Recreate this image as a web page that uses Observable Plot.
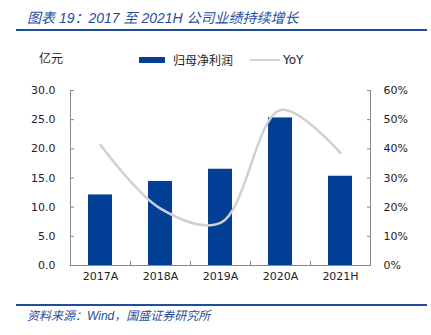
<!DOCTYPE html>
<html><head><meta charset="utf-8">
<script src="https://cdn.jsdelivr.net/npm/d3@7"></script>
<script src="https://cdn.jsdelivr.net/npm/@observablehq/plot@0.6"></script>
<style>
body{margin:0;background:#fff;}
#wrap{position:relative;width:431px;height:335px;overflow:hidden;font-family:"Noto Sans CJK SC",sans-serif;}
#title{position:absolute;left:27px;top:7px;font-size:14px;font-style:italic;color:#1f4e9e;white-space:nowrap;font-family:"Liberation Sans","Noto Sans CJK SC",sans-serif;}
.hr{position:absolute;left:16px;width:411px;height:2px;background:#1f4e9e;}
#unit{position:absolute;left:39px;top:49px;font-size:12px;color:#222;}
#legend{position:absolute;left:139px;top:49px;font-size:12px;color:#222;white-space:nowrap;}
#legend span{display:inline-block;vertical-align:middle;}
#caption{position:absolute;left:27px;top:306px;font-size:12px;font-style:italic;color:#1f4e9e;white-space:nowrap;font-family:"Liberation Sans","Noto Sans CJK SC",sans-serif;}
#chart{position:absolute;left:0;top:70px;}
</style></head><body>
<div id="wrap">
<div id="title">图表 19：2017 至 2021H 公司业绩持续增长</div>
<div class="hr" style="top:29px"></div>
<div id="unit">亿元</div>
<div id="legend"><span style="width:26px;height:6px;background:#043f97;"></span><span style="margin-left:8px;">归母净利润</span><span style="margin-left:17px;width:30px;height:2px;background:#d0d0d0;"></span><span style="margin-left:3px;font-family:'DejaVu Sans';">YoY</span></div>
<div id="chart"></div>
<div class="hr" style="top:304px"></div>
<div id="caption">资料来源：Wind，国盛证券研究所</div>
</div>
<script>
const categories = ["2017A","2018A","2019A","2020A","2021H"];
const profit = [12.1, 14.4, 16.5, 25.3, 15.3];
const yoy = [41.3, 19.5, 14.6, 53.3, 38.6];
const leftTicks = [0, 5, 10, 15, 20, 25, 30];
const rightTicks = [0, 10, 20, 30, 40, 50, 60];

const rows = categories.map((c, i) => ({c, i, profit: profit[i], yoy: yoy[i]}));
const axisColor = "#888";

const chart = Plot.plot({
  width: 431, height: 230,
  marginTop: 20, marginBottom: 35, marginLeft: 70, marginRight: 61,
  style: {fontFamily: "DejaVu Sans", fontSize: "11px", color: "#222", background: "transparent"},
  x: {domain: [0, categories.length], axis: null},
  y: {domain: [0, 30], axis: null},
  marks: [
    Plot.rectY(rows, {x1: d => d.i + 0.3, x2: d => d.i + 0.7, y: "profit", fill: "#043f97"}),
    Plot.line(rows, {x: d => d.i + 0.5, y: d => d.yoy / 2, curve: "catmull-rom", stroke: "#d0d0d0", strokeWidth: 2.5}),
    Plot.ruleX([0, categories.length], {stroke: axisColor}),
    Plot.ruleY([0], {stroke: axisColor}),
    Plot.axisY(leftTicks, {anchor: "left", label: null, tickSize: 0, tickPadding: 15, tickFormat: d => d.toFixed(1), fill: "#222"}),
    Plot.axisY(leftTicks, {anchor: "left", label: null, tickSize: -4, tickFormat: () => "", stroke: axisColor}),
    Plot.axisY(rightTicks.map(v => v / 2), {anchor: "right", label: null, tickSize: 0, tickPadding: 13, tickFormat: d => (d * 2) + "%", fill: "#222"}),
    Plot.axisY(rightTicks.map(v => v / 2), {anchor: "right", label: null, tickSize: -4, tickFormat: () => "", stroke: axisColor}),
    Plot.axisX(categories.map((c, i) => i + 0.5), {anchor: "bottom", label: null, tickSize: 0, tickPadding: 7, tickFormat: d => categories[Math.floor(d)], fill: "#222"}),
    Plot.axisX(d3.range(categories.length + 1), {anchor: "bottom", label: null, tickSize: -4, tickFormat: () => "", stroke: axisColor})
  ]
});
document.getElementById("chart").appendChild(chart);
</script>
</body></html>
